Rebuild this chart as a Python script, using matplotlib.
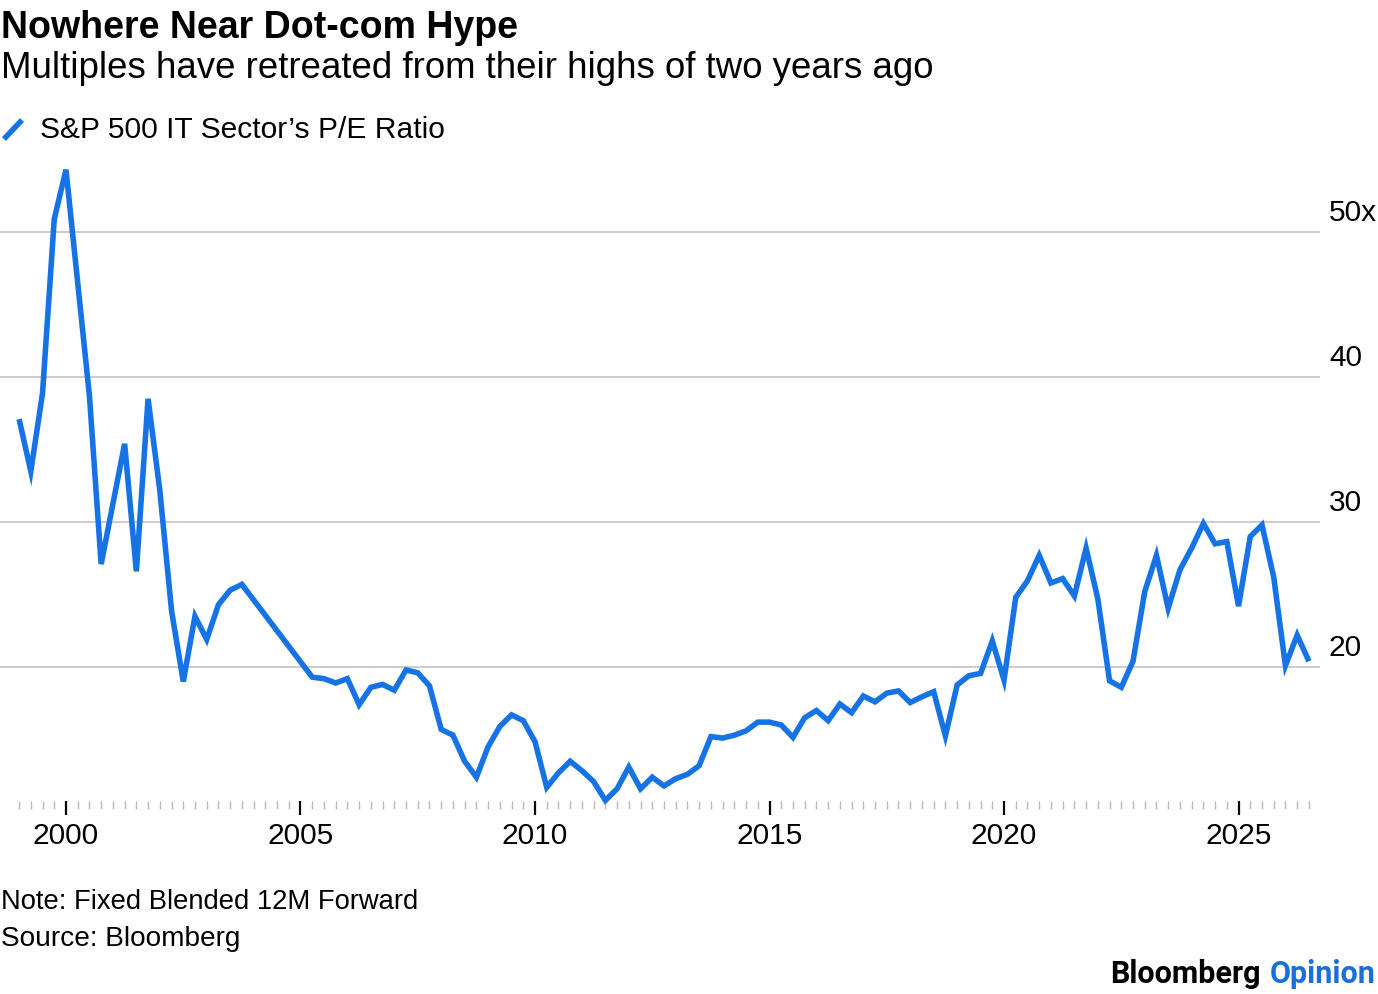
import matplotlib
matplotlib.use("Agg")
import matplotlib.pyplot as plt
import matplotlib.transforms as mtransforms
from matplotlib.lines import Line2D
import numpy as np

# ---------------- data ----------------
years = [1999.0, 1999.25, 1999.5, 1999.75, 2000.0, 2000.25, 2000.5, 2000.75,
         2001.25, 2001.5, 2001.75, 2002.0, 2002.25, 2002.5, 2002.75, 2003.0,
         2003.25, 2003.5, 2003.75, 2005.25, 2005.5, 2005.75, 2006.0, 2006.25,
         2006.5, 2006.75, 2007.0, 2007.25, 2007.5, 2007.75, 2008.0, 2008.25,
         2008.5, 2008.75, 2009.0, 2009.25, 2009.5, 2009.75, 2010.0, 2010.25,
         2010.5, 2010.75, 2011.0, 2011.25, 2011.5, 2011.75, 2012.0, 2012.25,
         2012.5, 2012.75, 2013.0, 2013.25, 2013.5, 2013.75, 2014.0, 2014.25,
         2014.5, 2014.75, 2015.0, 2015.25, 2015.5, 2015.75, 2016.0, 2016.25,
         2016.5, 2016.75, 2017.0, 2017.25, 2017.5, 2017.75, 2018.0, 2018.25,
         2018.5, 2018.75, 2019.0, 2019.25, 2019.5, 2019.75, 2020.0, 2020.25,
         2020.5, 2020.75, 2021.0, 2021.25, 2021.5, 2021.75, 2022.0, 2022.25,
         2022.5, 2022.75, 2023.0, 2023.25, 2023.5, 2023.75, 2024.0, 2024.25,
         2024.5, 2024.75, 2025.0, 2025.25, 2025.5, 2025.75, 2026.0, 2026.25,
         2026.5]
pe_ratio = [37.1, 33.5, 38.9, 50.9, 54.3, 46.5, 38.7, 27.1,
            35.4, 26.6, 38.5, 32.2, 23.9, 19.0, 23.5, 21.9,
            24.3, 25.3, 25.7, 19.3, 19.2, 18.9, 19.2, 17.4,
            18.6, 18.8, 18.4, 19.8, 19.6, 18.7, 15.7, 15.3,
            13.5, 12.4, 14.5, 15.9, 16.7, 16.3, 14.85, 11.7,
            12.7, 13.5, 12.85, 12.1, 10.8, 11.6, 13.1, 11.6,
            12.4, 11.8, 12.3, 12.6, 13.2, 15.2, 15.1, 15.3,
            15.6, 16.2, 16.2, 16.0, 15.15, 16.5, 17.0, 16.3,
            17.45, 16.85, 18.0, 17.6, 18.2, 18.35, 17.55, 17.95,
            18.3, 15.25, 18.76, 19.4, 19.56, 21.8, 19.1, 24.8,
            25.95, 27.7, 25.8, 26.1, 24.9, 28.2, 24.7, 19.05,
            18.6, 20.4, 25.2, 27.7, 24.05, 26.7, 28.2, 29.9,
            28.5, 28.65, 24.2, 29.0, 29.8, 26.2, 20.1, 22.2,
            20.4]
x_major = [2000, 2005, 2010, 2015, 2020, 2025]
x_labels = ["2000", "2005", "2010", "2015", "2020", "2025"]
y_grid = [20, 30, 40, 50]
y_labels = ["20", "30", "40", "50x"]

title = "Nowhere Near Dot-com Hype"
subtitle = "Multiples have retreated from their highs of two years ago"
legend_label = "S&P 500 IT Sector\u2019s P/E Ratio"
note = "Note: Fixed Blended 12M Forward"
source = "Source: Bloomberg"

BLUE = "#1673E6"
FONT = "Liberation Sans"

# ---------------- figure ----------------
W, H = 1378, 994
fig = plt.figure(figsize=(W / 100, H / 100), dpi=100)
fig.patch.set_facecolor("white")

ax_left, ax_right = 0, 1320
ax_top, ax_bot = 150, 801
ax = fig.add_axes([ax_left / W, 1 - ax_bot / H, (ax_right - ax_left) / W, (ax_bot - ax_top) / H])

ax.plot(years, pe_ratio, color=BLUE, lw=4.0, solid_joinstyle="miter",
        solid_capstyle="butt", clip_on=False, zorder=3)

ax.set_xlim(1998.593, 2026.737)
ax.set_ylim(10.76, 55.66)

for s in ax.spines.values():
    s.set_visible(False)

for g in y_grid:
    ax.axhline(g, color="#cccccc", lw=1.4, zorder=1)

ax.set_yticks([])
ax.set_xticks(x_major)
ax.set_xticklabels(x_labels, fontsize=21.5, family=FONT, color="black")
minor = [v for v in np.arange(1999.0, 2026.51, 0.25) if v not in x_major]
ax.set_xticks(minor, minor=True)
ax.tick_params(axis="x", which="major", direction="out", length=10, width=1.6,
               color="black", pad=5)
ax.tick_params(axis="x", which="minor", direction="out", length=5.5, width=1.0,
               color="#bbbbbb")

# y labels sitting above gridlines
base = mtransforms.blended_transform_factory(fig.transFigure, ax.transData)
trans = mtransforms.offset_copy(base, fig=fig, x=0, y=11 / 100, units="inches")
for g, lab in zip(y_grid, y_labels):
    fig.text(1329 / W, g, lab, transform=trans, ha="left", va="baseline",
             fontsize=21.5, family=FONT, color="black")

# titles
fig.text(1 / W, 1 - 38 / H, title, ha="left", va="baseline", fontsize=27,
         fontweight="bold", family=FONT, color="black")
fig.text(1 / W, 1 - 78 / H, subtitle, ha="left", va="baseline", fontsize=26.4,
         family=FONT, color="black")

# legend
fig.add_artist(Line2D([4 / W, 22 / W], [1 - 139 / H, 1 - 120 / H], color=BLUE,
                      lw=4.0, solid_capstyle="butt", transform=fig.transFigure))
fig.text(40 / W, 1 - 138 / H, legend_label, ha="left", va="baseline",
         fontsize=21.6, family=FONT, color="black")

# footer
fig.text(1 / W, 1 - 909 / H, note, ha="left", va="baseline", fontsize=19.7,
         family=FONT, color="black")
fig.text(1 / W, 1 - 946 / H, source, ha="left", va="baseline", fontsize=20.2,
         family=FONT, color="black")

t2 = fig.text(1376 / W, 1 - 983 / H, "Opinion", ha="right", va="baseline",
              fontsize=22, fontweight="bold", family="Roboto", color="#1A6FDB")
fig.canvas.draw()
bb = t2.get_window_extent()
fig.text((bb.x0 - 10) / W, 1 - 983 / H, "Bloomberg", ha="right", va="baseline",
         fontsize=22, fontweight="bold", family="Roboto", color="black")

fig.savefig("out.png", dpi=100, facecolor="white")
